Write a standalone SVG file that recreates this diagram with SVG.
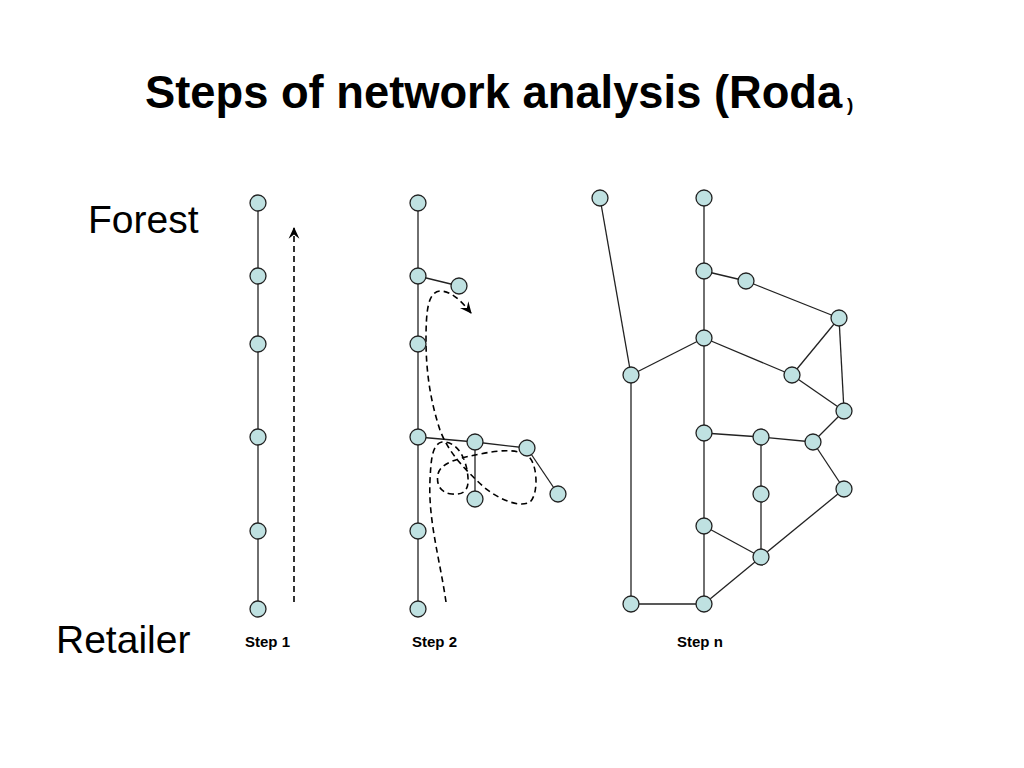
<svg xmlns="http://www.w3.org/2000/svg" width="1024" height="768" viewBox="0 0 1024 768">
<style>
.n{fill:#bfe1e1;stroke:#222;stroke-width:1.3}
.e{stroke:#222;stroke-width:1.3;fill:none}
.d{stroke:#000;stroke-width:1.6;fill:none;stroke-dasharray:6 4}
.t{font-family:"Liberation Sans",Arial,sans-serif;fill:#000}
</style>
<defs>
<marker id="ah" viewBox="0 0 12 12" refX="10" refY="6" markerWidth="13" markerHeight="13" markerUnits="userSpaceOnUse" orient="auto">
<path d="M0,1 L11,6 L0,11 L4,6 Z" fill="#000"/>
</marker>
</defs>
<rect width="1024" height="768" fill="#fff"/>
<text class="t" x="145" y="108" font-size="45.3" font-weight="bold">Steps of network analysis (Roda</text>
<text class="t" x="847" y="111" font-size="19" font-weight="bold">)</text>
<text class="t" x="88" y="233" font-size="39">Forest</text>
<text class="t" x="56" y="653" font-size="39">Retailer</text>
<text class="t" x="245" y="647" font-size="15" font-weight="bold">Step 1</text>
<text class="t" x="412" y="647" font-size="15" font-weight="bold">Step 2</text>
<text class="t" x="677" y="647" font-size="15" font-weight="bold">Step n</text>
<g id="connectors">
<line class="e" x1="258" y1="203" x2="258" y2="609"/>
<line class="e" x1="418" y1="203" x2="418" y2="609"/>
<line class="e" x1="418" y1="276" x2="459" y2="286"/>
<line class="e" x1="418" y1="437" x2="475" y2="442"/>
<line class="e" x1="475" y1="442" x2="527" y2="448"/>
<line class="e" x1="527" y1="448" x2="558" y2="494"/>
<line class="e" x1="475" y1="442" x2="475" y2="499"/>
<line class="e" x1="600" y1="198" x2="631" y2="375"/>
<line class="e" x1="704" y1="198" x2="704" y2="604"/>
<line class="e" x1="704" y1="271" x2="746" y2="281"/>
<line class="e" x1="746" y1="281" x2="839" y2="318"/>
<line class="e" x1="704" y1="338" x2="631" y2="375"/>
<line class="e" x1="704" y1="338" x2="792" y2="375"/>
<line class="e" x1="792" y1="375" x2="839" y2="318"/>
<line class="e" x1="839" y1="318" x2="844" y2="411"/>
<line class="e" x1="792" y1="375" x2="844" y2="411"/>
<line class="e" x1="631" y1="375" x2="631" y2="604"/>
<line class="e" x1="631" y1="604" x2="704" y2="604"/>
<line class="e" x1="704" y1="433" x2="761" y2="437"/>
<line class="e" x1="761" y1="437" x2="813" y2="442"/>
<line class="e" x1="813" y1="442" x2="844" y2="411"/>
<line class="e" x1="813" y1="442" x2="844" y2="489"/>
<line class="e" x1="761" y1="437" x2="761" y2="557"/>
<line class="e" x1="704" y1="526" x2="761" y2="557"/>
<line class="e" x1="761" y1="557" x2="844" y2="489"/>
<line class="e" x1="704" y1="604" x2="761" y2="557"/>
<line class="d" x1="294" y1="602" x2="294" y2="228" marker-end="url(#ah)"/>
<path class="d" marker-end="url(#ah)" d="M446,602 C440,560 428,520 430,480 C431,460 432,444 442,442 C458,441 467,460 468,478 C469,492 462,495 452,494 C440,493 436,484 438,474 C441,462 460,458 480,454 C500,450 520,448 530,458 C538,468 538,495 530,502 C520,508 500,500 485,488 C465,470 448,452 440,430 C430,400 426,370 426,340 C426,310 428,292 440,291 C452,291 462,302 471,313"/>
</g>
<g id="step1">
<circle class="n" cx="258" cy="203" r="8"/>
<circle class="n" cx="258" cy="276" r="8"/>
<circle class="n" cx="258" cy="344" r="8"/>
<circle class="n" cx="258" cy="437" r="8"/>
<circle class="n" cx="258" cy="531" r="8"/>
<circle class="n" cx="258" cy="609" r="8"/>
</g>
<g id="step2">
<circle class="n" cx="418" cy="203" r="8"/>
<circle class="n" cx="418" cy="276" r="8"/>
<circle class="n" cx="459" cy="286" r="8"/>
<circle class="n" cx="418" cy="344" r="8"/>
<circle class="n" cx="418" cy="437" r="8"/>
<circle class="n" cx="475" cy="442" r="8"/>
<circle class="n" cx="527" cy="448" r="8"/>
<circle class="n" cx="558" cy="494" r="8"/>
<circle class="n" cx="475" cy="499" r="8"/>
<circle class="n" cx="418" cy="531" r="8"/>
<circle class="n" cx="418" cy="609" r="8"/>
</g>
<g id="stepn">
<circle class="n" cx="600" cy="198" r="8"/>
<circle class="n" cx="704" cy="198" r="8"/>
<circle class="n" cx="704" cy="271" r="8"/>
<circle class="n" cx="746" cy="281" r="8"/>
<circle class="n" cx="839" cy="318" r="8"/>
<circle class="n" cx="704" cy="338" r="8"/>
<circle class="n" cx="631" cy="375" r="8"/>
<circle class="n" cx="792" cy="375" r="8"/>
<circle class="n" cx="844" cy="411" r="8"/>
<circle class="n" cx="704" cy="433" r="8"/>
<circle class="n" cx="761" cy="437" r="8"/>
<circle class="n" cx="813" cy="442" r="8"/>
<circle class="n" cx="844" cy="489" r="8"/>
<circle class="n" cx="761" cy="494" r="8"/>
<circle class="n" cx="704" cy="526" r="8"/>
<circle class="n" cx="761" cy="557" r="8"/>
<circle class="n" cx="631" cy="604" r="8"/>
<circle class="n" cx="704" cy="604" r="8"/>
</g>
</svg>
